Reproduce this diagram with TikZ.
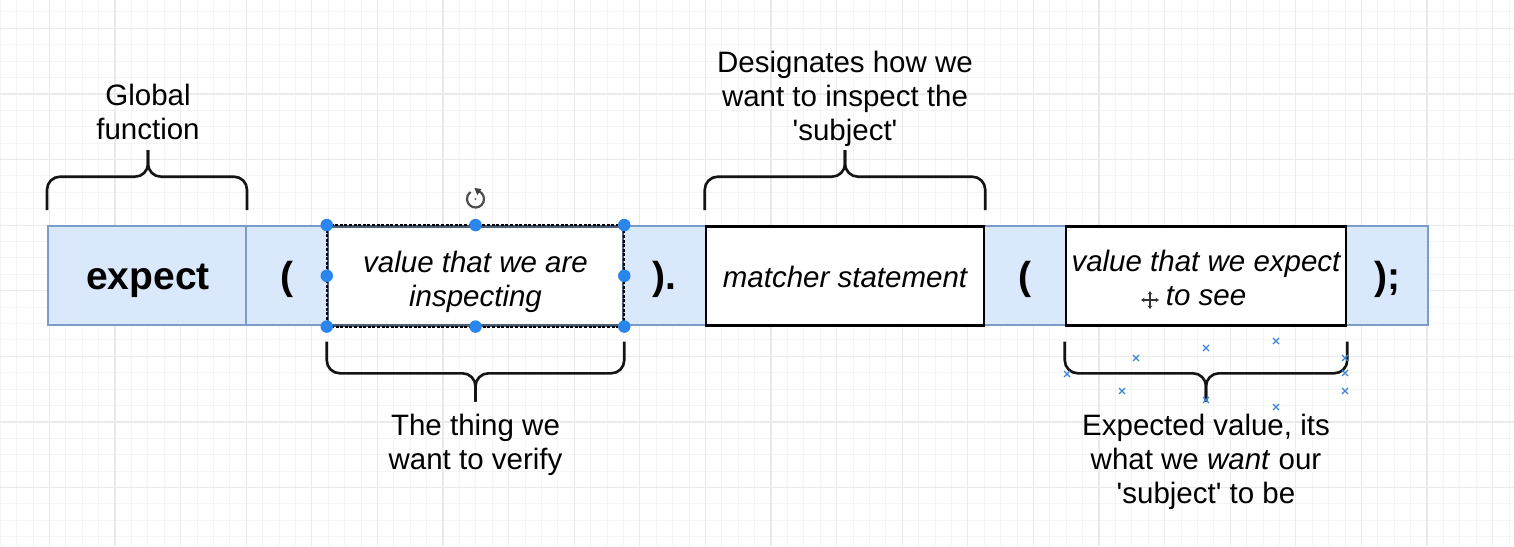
\documentclass[tikz,border=0pt]{standalone}
\usepackage{fontspec}
\setmainfont{Liberation Sans}
\usetikzlibrary{arrows.meta}
\definecolor{bluefill}{HTML}{DAE8FC}
\definecolor{blueline}{HTML}{7C9CC8}
\definecolor{gridminor}{HTML}{F4F4F4}
\definecolor{gridmajor}{HTML}{EAEAEA}
\definecolor{handle}{HTML}{2A86EC}
\definecolor{xmark}{HTML}{3C84D8}
\begin{document}
\begin{tikzpicture}[x=1pt,y=-1pt,
  cellblue/.style={draw=blueline, fill=bluefill, line width=2pt, inner sep=0pt, minimum height=99pt},
  cellwhite/.style={draw=black, fill=white, line width=2.5pt, inner sep=0pt, minimum height=99pt},
  boldtxt/.style={font=\fontsize{39}{44}\selectfont\bfseries, inner sep=0pt, anchor=base},
  itxt/.style={font=\fontsize{29.5}{34}\selectfont\itshape, align=center, inner sep=0pt},
  lbl/.style={font=\fontsize{29.5}{34}\selectfont, align=center, inner sep=0pt},
  brace/.style={draw=black!92, line width=2.6pt, rounded corners=13pt},
  hnd/.style={circle, fill=handle, inner sep=0pt, minimum size=12.5pt},
  xm/.style={draw=xmark, line width=1.3pt},
  cursorln/.style={draw=black!80, line width=1.8pt}
]
\useasboundingbox (0,0) rectangle (1514,546);
\fill[white] (0,0) rectangle (1514,546);
% grid
\foreach \i in {0,...,92} \draw[gridminor, line width=1pt] ({0.2+16.4*\i},0) -- ({0.2+16.4*\i},546);
\foreach \j in {0,...,32} \draw[gridminor, line width=1pt] (0,{11.9+16.4*\j}) -- (1514,{11.9+16.4*\j});
\foreach \i in {0,...,22} \draw[gridmajor, line width=1.2pt] ({49.4+65.6*\i},0) -- ({49.4+65.6*\i},546);
\foreach \j in {0,...,7} \draw[gridmajor, line width=1.2pt] (0,{28.3+65.6*\j}) -- (1514,{28.3+65.6*\j});

% cells
\node[cellblue, minimum width=198pt] (cexp) at (147,275.8) {};
\node[cellblue, minimum width=82pt] (clp1) at (287,275.8) {};
\node[cellblue, minimum width=83pt] (crp1) at (664.5,275.8) {};
\node[cellblue, minimum width=82pt] (clp2) at (1025,275.8) {};
\node[cellblue, minimum width=82pt] (crp2) at (1387,275.8) {};
\node[cellwhite, draw=blueline!60!black, minimum width=295pt] (cval1) at (475.5,275.8) {};
\draw[black, line width=2pt, dash pattern=on 3pt off 1.6pt] (cval1.north west) rectangle (cval1.south east);
\node[cellwhite, minimum width=278pt] (cmat) at (845,275.8) {};
\node[cellwhite, minimum width=280pt] (cval2) at (1206,275.8) {};

% texts in cells
\node[boldtxt] (texp) at (148,289) {expect};
\node[boldtxt] (tlp1) at (287,289) {(};
\node[boldtxt] (trp1) at (664.5,289) {).};
\node[boldtxt] (tlp2) at (1025,289) {(};
\node[boldtxt] (trp2) at (1387,289) {);};
\node[itxt] (tval1) at (475.5,281.5) {value that we are\\inspecting};
\node[itxt, anchor=base] (tmat) at (845,287) {matcher statement};
\node[itxt] (tval2) at (1206,277.5) {value that we expect\\to see};

% labels
\node[lbl] (lglob) at (148,112) {Global\\function};
\node[lbl] (ldes) at (845,99.3) {Designates how we\\want to inspect the\\\textquotesingle subject\textquotesingle};
\node[lbl] (lthing) at (475.5,445) {The thing we\\want to verify};
\node[lbl] (lexpv) at (1206,462) {Expected value, its\\what we \textit{want} our\\\textquotesingle subject\textquotesingle{} to be};

% brace levels
\coordinate (tEnd) at (0,210);
\coordinate (tMid) at (0,176.7);
\coordinate (tTip) at (0,150);
\coordinate (bEnd) at (0,341.7);
\coordinate (bMid) at (0,373.3);
\coordinate (bTip) at (0,401.7);

% top braces
\draw[brace] (cexp.north west |- tEnd) |- (lglob.south |- tMid) -- (lglob.south |- tTip);
\draw[brace] (cexp.north east |- tEnd) |- (lglob.south |- tMid) -- (lglob.south |- tTip);
\draw[brace] (cmat.north west |- tEnd) |- (cmat.north |- tMid) -- (cmat.north |- tTip);
\draw[brace] (cmat.north east |- tEnd) |- (cmat.north |- tMid) -- (cmat.north |- tTip);
% bottom braces
\draw[brace] (cval1.south west |- bEnd) |- (cval1.south |- bMid) -- (cval1.south |- bTip);
\draw[brace] (cval1.south east |- bEnd) |- (cval1.south |- bMid) -- (cval1.south |- bTip);
\draw[brace] (cval2.south west |- bEnd) |- (cval2.south |- bMid) -- (cval2.south |- bTip);
\draw[brace] (cval2.south east |- bEnd) |- (cval2.south |- bMid) -- (cval2.south |- bTip);

% selection handles
\foreach \a/\n in {north west/1,north/2,north east/3,west/4,east/5,south west/6,south/7,south east/8}
  \node[hnd] (h\n) at (cval1.\a) {};

% rotate icon
\coordinate (rot) at (475.5,199);
\draw[black!70, line width=2.2pt] (rot) ++(-70:8.5) arc[start angle=-70, end angle=235, radius=8.5];
\fill[black!75] (rot) ++(-70:8.5) ++(-4,-3) -- ++(7,1) -- ++(-4,6) -- cycle;
\fill[black!60] (rot) circle[radius=1.2];

% move cursor
\coordinate (mv) at (1150,300);
\draw[cursorln, {Stealth[length=3.5pt,width=4.5pt]}-{Stealth[length=3.5pt,width=4.5pt]}] ([xshift=-9pt]mv) -- ([xshift=9pt]mv);
\draw[cursorln, {Stealth[length=3.5pt,width=4.5pt]}-{Stealth[length=3.5pt,width=4.5pt]}] ([yshift=-9pt]mv) -- ([yshift=9pt]mv);

% blue x marks
\foreach \x/\y in {1067/374,1136/358,1206/348,1276/341,1345/358,1345/373,1345/391,1122/391,1206/400,1276/407}
  \draw[xm] ({\x-3},{\y-3}) -- ({\x+3},{\y+3}) ({\x-3},{\y+3}) -- ({\x+3},{\y-3});
\end{tikzpicture}
\end{document}
